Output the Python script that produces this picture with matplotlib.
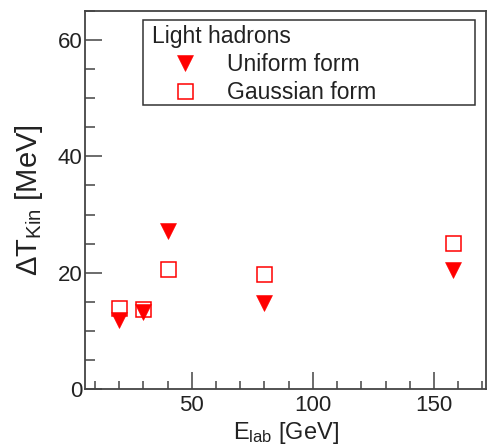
import matplotlib
matplotlib.use("Agg")
import matplotlib.pyplot as plt
from matplotlib.patches import Rectangle
from matplotlib.ticker import MultipleLocator

plt.rcParams['font.family'] = ['Liberation Sans', 'DejaVu Sans']
plt.rcParams['mathtext.fontset'] = 'custom'
plt.rcParams['mathtext.rm'] = 'Liberation Sans'
plt.rcParams['mathtext.it'] = 'Liberation Sans'
plt.rcParams['mathtext.default'] = 'regular'

# Beam energy (GeV) and kinetic-temperature shift (MeV)
e_lab = [20, 30, 40, 80, 158]
dt_uniform = [11.8, 13.2, 27.1, 14.8, 20.5]
dt_gaussian = [13.9, 13.7, 20.7, 19.8, 25.1]

legend_title = "Light hadrons"
label_uniform = "Uniform form"
label_gaussian = "Gaussian form"

text_col = "#222222"
axis_col = "#444444"
red = "#ff0000"

fig = plt.figure(figsize=(4.89, 4.45), dpi=100)
ax = fig.add_axes([0.1738, 0.1258, 0.8201, 0.8495])

ax.plot(e_lab, dt_uniform, linestyle="none", marker="v", markersize=11,
        color=red, markeredgewidth=0.4, label=label_uniform)
ax.plot(e_lab, dt_gaussian, linestyle="none", marker="s", markersize=10.8,
        markerfacecolor="none", markeredgecolor=red, markeredgewidth=1.1,
        label=label_gaussian)

ax.set_xlim(5.9, 171.5)
ax.set_ylim(0, 65)
ax.xaxis.set_major_locator(MultipleLocator(50))
ax.xaxis.set_minor_locator(MultipleLocator(10))
ax.yaxis.set_major_locator(MultipleLocator(20))
ax.yaxis.set_minor_locator(MultipleLocator(5))

ax.tick_params(which="both", direction="in", top=False, right=False,
               color=axis_col, labelcolor=text_col, labelsize=16, width=1.1)
ax.tick_params(axis="y", which="major", length=12, pad=2)
ax.tick_params(axis="y", which="minor", length=7)
ax.tick_params(axis="x", which="major", length=12, pad=4)
ax.tick_params(axis="x", which="minor", length=6)
for s in ax.spines.values():
    s.set_color(axis_col)
    s.set_linewidth(1.3)

ax.set_xlabel(r"E$_{\rm lab}$ [GeV]", fontsize=17, color=text_col, labelpad=3)
ax.set_ylabel(r"$\Delta$T$_{\rm Kin}$ [MeV]", fontsize=21, color=text_col, labelpad=9)

# legend frame spans a fixed box
ax.add_patch(Rectangle((0.1446, 0.751), 0.828, 0.225, transform=ax.transAxes,
                       fill=False, edgecolor="#333333", linewidth=1.1, zorder=4))
leg = ax.legend(loc="upper left", bbox_to_anchor=(0.155, 0.974), frameon=False,
                title=legend_title, alignment="left", fontsize=16.5,
                title_fontsize=16.5, handlelength=2.9, handletextpad=0.4,
                labelspacing=0.22, borderpad=0.2, borderaxespad=0.0)
plt.setp(leg.get_texts(), color=text_col)
leg.get_title().set_color(text_col)

fig.savefig("out.png", dpi=100)
